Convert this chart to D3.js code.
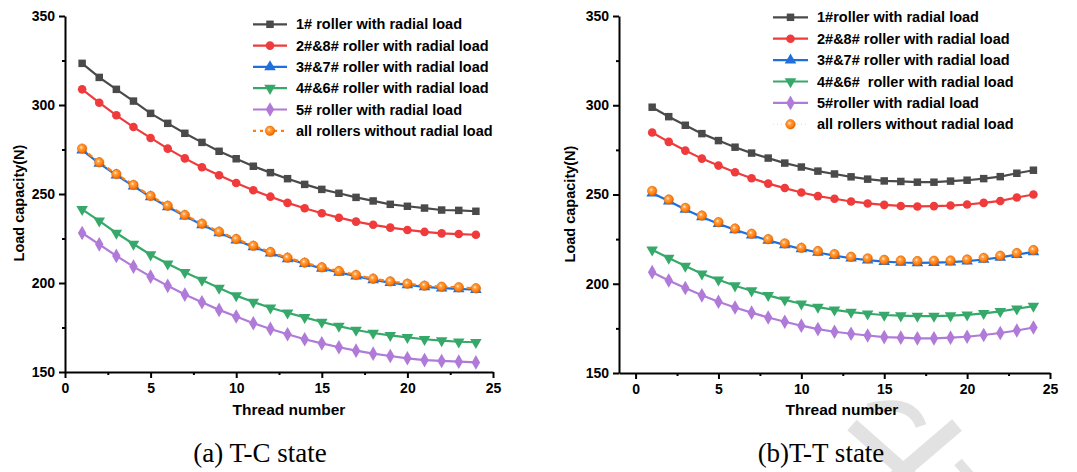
<!DOCTYPE html>
<html>
<head>
<meta charset="utf-8">
<script src="https://cdn.jsdelivr.net/npm/d3@7/dist/d3.min.js"></script>
<style>
  body { margin: 0; background: #fff; }
  svg text { font-family: "Liberation Sans", Arial, sans-serif; }
</style>
</head>
<body>
<div id="chart"></div>
<script>
// thread numbers (x values)
var threads = [1, 2, 3, 4, 5, 6, 7, 8, 9, 10, 11, 12, 13, 14, 15, 16, 17, 18, 19, 20, 21, 22, 23, 24];

// (a) T-C state
var tc_roller1 = [323.4, 315.5, 308.8, 302.2, 295.3, 289.7, 284.1, 279.0, 274.0, 269.8, 265.6, 262.0, 258.6, 255.4, 252.6, 250.4, 248.1, 246.1, 244.2, 243.1, 242.1, 241.0, 240.8, 240.3];
var tc_roller28 = [308.8, 301.3, 294.2, 287.6, 281.5, 275.5, 270.0, 265.0, 260.5, 256.2, 252.1, 248.5, 245.0, 242.0, 239.2, 236.7, 234.5, 232.7, 231.1, 229.8, 228.7, 227.9, 227.5, 227.1];
var tc_roller37 = [274.6, 267.2, 260.6, 254.4, 248.3, 242.8, 237.6, 232.7, 228.2, 224.1, 220.3, 216.8, 213.6, 210.8, 208.2, 206.0, 203.9, 201.8, 200.2, 198.9, 197.8, 197.1, 196.7, 196.2];
var tc_roller46 = [241.4, 234.9, 228.1, 221.9, 215.9, 210.8, 206.0, 201.7, 197.2, 192.9, 189.3, 186.1, 183.3, 180.7, 178.1, 175.8, 173.6, 171.9, 170.6, 169.5, 168.4, 167.6, 167.0, 166.7];
var tc_roller5 = [228.1, 221.7, 215.2, 209.2, 203.6, 198.4, 193.5, 189.2, 184.9, 181.2, 177.4, 174.2, 171.2, 168.4, 166.1, 163.9, 162.0, 160.3, 159.0, 157.7, 156.7, 156.2, 155.8, 155.4];
var tc_noload = [275.5, 267.8, 261.2, 255.1, 248.9, 243.4, 238.2, 233.3, 228.8, 224.7, 220.9, 217.4, 214.2, 211.4, 208.8, 206.7, 204.5, 202.4, 200.9, 199.6, 198.5, 197.9, 197.6, 197.0];

// (b) T-T state
var tt_roller1 = [298.9, 293.6, 288.8, 284.1, 280.2, 276.5, 273.2, 270.4, 267.6, 265.4, 263.1, 261.5, 259.9, 258.6, 257.6, 257.3, 256.9, 256.9, 257.5, 258.0, 258.9, 260.0, 261.9, 263.6];
var tt_roller28 = [284.7, 279.5, 274.6, 270.1, 266.2, 262.5, 259.1, 256.1, 253.6, 251.1, 249.1, 247.6, 246.1, 245.0, 244.2, 243.6, 243.3, 243.5, 243.8, 244.4, 245.3, 246.4, 248.3, 250.0];
var tt_roller37 = [250.8, 246.3, 241.6, 237.4, 233.6, 230.2, 227.2, 224.3, 221.8, 219.5, 217.5, 215.8, 214.3, 213.2, 212.4, 211.9, 211.7, 211.8, 212.1, 212.7, 213.6, 214.8, 216.3, 217.9];
var tt_roller46 = [219.0, 214.4, 209.9, 205.6, 202.2, 198.9, 196.1, 193.5, 191.0, 188.8, 186.9, 185.4, 184.1, 183.2, 182.5, 182.1, 181.9, 181.9, 182.1, 182.6, 183.4, 184.5, 186.0, 187.5];
var tt_roller5 = [206.5, 201.8, 197.6, 193.5, 189.9, 186.7, 183.8, 181.1, 178.7, 176.5, 174.6, 173.1, 172.0, 171.0, 170.1, 169.8, 169.4, 169.4, 169.8, 170.3, 171.3, 172.4, 173.8, 175.5];
var tt_noload = [252.0, 247.2, 242.5, 238.2, 234.5, 230.9, 228.0, 225.0, 222.6, 220.1, 218.3, 216.6, 215.1, 214.2, 213.4, 213.0, 212.7, 212.9, 213.0, 213.6, 214.5, 215.7, 217.2, 218.9];

var legend_tc = ["1# roller with radial load", "2#&8# roller with radial load", "3#&7# roller with radial load", "4#&6# roller with radial load", "5# roller with radial load", "all rollers without radial load"];
var legend_tt = ["1#roller with radial load", "2#&8# roller with radial load", "3#&7# roller with radial load", "4#&6#  roller with radial load", "5#roller with radial load", "all rollers without radial load"];

var x_major = [0, 5, 10, 15, 20, 25];
var x_minor = [2.5, 7.5, 12.5, 17.5, 22.5];
var y_major = [150, 200, 250, 300, 350];
var y_minor = [175, 225, 275, 325];

var colors = ["#4a4a4a", "#ef3b3b", "#1f6fdc", "#36a96a", "#b07ad8", "#ff7f0e"];
var symbols = [d3.symbolSquare, d3.symbolCircle, d3.symbolTriangle, d3.symbolTriangle, d3.symbolDiamond, d3.symbolCircle];
var sizes = [56, 58, 58, 58, 62, 70];

var sans = "'Liberation Sans', Arial, sans-serif";
var serif = "'Liberation Serif', 'Times New Roman', serif";

var W = 1077, H = 472;
var svg = d3.select("#chart").append("svg").attr("width", W).attr("height", H);

// orange ball gradient
var grad = svg.append("defs").append("radialGradient").attr("id", "ball")
    .attr("cx", "40%").attr("cy", "38%").attr("r", "60%");
grad.append("stop").attr("offset", "0%").attr("stop-color", "#fff2e0");
grad.append("stop").attr("offset", "30%").attr("stop-color", "#ffa040");
grad.append("stop").attr("offset", "80%").attr("stop-color", "#ff7a0a");
grad.append("stop").attr("offset", "100%").attr("stop-color", "#e06000");

// faint watermark behind everything
var wm = svg.append("g").attr("fill", "none").attr("stroke", "#e2e2e2");
wm.append("path").attr("d", "M868,409 Q912,398 921,426").attr("stroke-width", 11);
wm.append("path").attr("d", "M957,425 L895,478").attr("stroke-width", 15);
wm.append("path").attr("d", "M852,425 L912,478").attr("stroke-width", 14);
wm.append("path").attr("d", "M958,462 L972,478").attr("stroke-width", 10);

function marker(g, i, x, y, size) {
    var m = g.append("path")
        .attr("d", d3.symbol().type(symbols[i]).size(size)())
        .attr("transform", "translate(" + x + "," + y + ")" + (i == 3 ? " rotate(180)" : ""));
    if (i == 5) {
        m.attr("fill", "url(#ball)").attr("stroke", "#e86a00").attr("stroke-width", 0.6);
    } else {
        m.attr("fill", colors[i]);
    }
}

function boldText(sel, size) {
    return sel.style("font-family", sans).style("font-size", size + "px").style("font-weight", "bold").attr("fill", "#000");
}

function panel(cfg) {
    var x = d3.scaleLinear().domain(cfg.xDomain).range(cfg.xRange);
    var y = d3.scaleLinear().domain([150, 350]).range(cfg.yRange);
    var g = svg.append("g");

    var line = d3.line()
        .x(function (d, i) { return x(threads[i]); })
        .y(function (d) { return y(d); });

    cfg.series.forEach(function (s, k) {
        if (k == 5 && !cfg.orangeLine) return;
        g.append("path").datum(s)
            .attr("fill", "none")
            .attr("stroke", colors[k])
            .attr("stroke-width", 2.2)
            .attr("stroke-dasharray", k == 5 ? "5,3" : null)
            .attr("d", line);
    });
    // no-load markers drawn on top of 3#&7#
    [0, 1, 3, 4, 2, 5].forEach(function (k) {
        cfg.series[k].forEach(function (v, i) {
            marker(g, k, x(threads[i]), y(v), sizes[k]);
        });
    });

    // axes
    g.append("g").attr("transform", "translate(0," + cfg.yRange[0] + ")")
        .call(d3.axisBottom(x).tickValues(x_major).tickSize(6).tickPadding(5).tickSizeOuter(0));
    g.append("g").attr("transform", "translate(0," + cfg.yRange[0] + ")")
        .call(d3.axisBottom(x).tickValues(x_minor).tickSize(3).tickFormat("").tickSizeOuter(0))
        .select(".domain").remove();
    g.append("g").attr("transform", "translate(" + cfg.xRange[0] + ",0)")
        .call(d3.axisLeft(y).tickValues(y_major).tickSize(6).tickPadding(4).tickSizeOuter(0));
    g.append("g").attr("transform", "translate(" + cfg.xRange[0] + ",0)")
        .call(d3.axisLeft(y).tickValues(y_minor).tickSize(3).tickFormat("").tickSizeOuter(0))
        .select(".domain").remove();

    g.selectAll(".domain").attr("stroke", "#000").attr("stroke-width", 2);
    g.selectAll(".tick line").attr("stroke", "#000").attr("stroke-width", 2);
    boldText(g.selectAll(".tick text"), 14);

    // axis titles
    boldText(g.append("text").attr("x", cfg.xTitleX).attr("y", 415).attr("text-anchor", "middle"), 15.5)
        .text("Thread number");
    boldText(g.append("text").attr("transform", "translate(" + cfg.yTitleX + "," + cfg.yTitleY + ") rotate(-90)")
        .attr("text-anchor", "middle"), 14.5)
        .text("Load capacity(N)");

    // caption
    g.append("text").attr("x", cfg.captionX).attr("y", 462)
        .attr("text-anchor", "middle")
        .style("font-family", serif).style("font-size", "27px")
        .attr("fill", "#000")
        .text(cfg.caption);

    // legend
    var leg = g.append("g");
    cfg.legend.forEach(function (name, k) {
        var ly = cfg.legY0 + k * cfg.legStep;
        var mid = (cfg.legX0 + cfg.legX1) / 2;
        var ln = leg.append("line")
            .attr("x1", cfg.legX0).attr("x2", cfg.legX1)
            .attr("y1", ly).attr("y2", ly)
            .attr("stroke", colors[k]).attr("stroke-width", 2.2);
        if (k == 5) {
            if (cfg.orangeLine) {
                ln.attr("stroke-dasharray", "3,4");
            } else {
                ln.attr("stroke", "#fbd3c0").attr("stroke-width", 1).attr("stroke-dasharray", "1,3");
            }
        }
        marker(leg, k, mid, ly, sizes[k]);
        boldText(leg.append("text").attr("x", cfg.legX1 + 9).attr("y", ly).attr("dy", "0.35em"), 14.5)
            .style("white-space", "pre")
            .text(name);
    });
}

panel({
    xDomain: [0, 25], xRange: [65, 493], yRange: [372, 16],
    series: [tc_roller1, tc_roller28, tc_roller37, tc_roller46, tc_roller5, tc_noload],
    orangeLine: true,
    legend: legend_tc, legX0: 253, legX1: 287, legY0: 24.3, legStep: 21.3,
    xTitleX: 289, yTitleX: 24, yTitleY: 203,
    captionX: 260, caption: "(a) T-C state"
});

panel({
    xDomain: [-1, 25], xRange: [619, 1050], yRange: [373, 16],
    series: [tt_roller1, tt_roller28, tt_roller37, tt_roller46, tt_roller5, tt_noload],
    orangeLine: false,
    legend: legend_tt, legX0: 773, legX1: 808, legY0: 17.3, legStep: 21.4,
    xTitleX: 842, yTitleX: 575, yTitleY: 204,
    captionX: 821, caption: "(b)T-T state"
});
</script>
</body>
</html>
